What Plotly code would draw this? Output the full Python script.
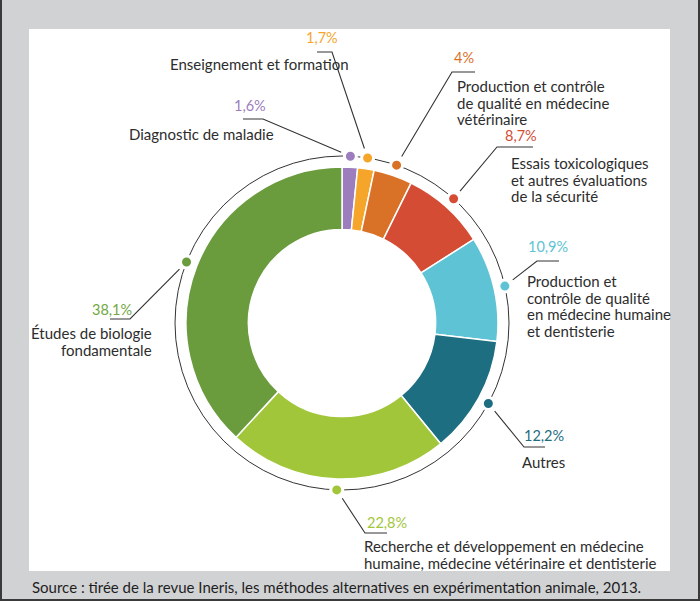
import math
import plotly.graph_objects as go

# ---- data ----
labels = [
    "Diagnostic de maladie",
    "Enseignement et formation",
    "Production et contrôle de qualité en médecine vétérinaire",
    "Essais toxicologiques et autres évaluations de la sécurité",
    "Production et contrôle de qualité en médecine humaine et dentisterie",
    "Autres",
    "Recherche et développement en médecine humaine, médecine vétérinaire et dentisterie",
    "Études de biologie fondamentale",
]
values = [1.6, 1.7, 4.0, 8.7, 10.9, 12.2, 22.8, 38.1]
pct_text = ["1,6%", "1,7%", "4%", "8,7%", "10,9%", "12,2%", "22,8%", "38,1%"]
label_lines = [
    ["Diagnostic de maladie"],
    ["Enseignement et formation"],
    ["Production et contrôle", "de qualité en médecine", "vétérinaire"],
    ["Essais toxicologiques", "et autres évaluations", "de la sécurité"],
    ["Production et", "contrôle de qualité", "en médecine humaine", "et dentisterie"],
    ["Autres"],
    ["Recherche et développement en médecine", "humaine, médecine vétérinaire et dentisterie"],
    ["Études de biologie", "fondamentale"],
]
colors = ["#9C7DBE", "#F6A52B", "#D97226", "#D54C35", "#5EC3D4", "#1D6E81", "#A2C639", "#6A9C3E"]
pct_colors = ["#9C7DBE", "#F6A52B", "#D97226", "#D54C35", "#5EC3D4", "#1D6E81", "#A2C639", "#72A843"]
source = "Source : tirée de la revue Ineris, les méthodes alternatives en expérimentation animale, 2013."

# ---- layout (pixel coordinates) ----
W, H = 700, 601
CX, CY = 342, 323      # donut centre
R_PIE = 156            # donut outer radius
R_RING = 167           # outer thin ring
TXT = "#2D2D2D"
FONT = "Lato"
FS = 15
FS_PCT = 14.5
LH = 16.6

# elbow / end of leader, pct text position, label position & anchor
elbow = [(263, 119), (332, 52), (452, 72), (497, 147), (537, 261), (524, 447), (365, 533), (130, 319)]
hend = [(243, 119), (317, 52), (475, 72), (533, 147), (559, 261), (545, 447), (387, 533), (110, 319)]
pct_pos = [(250, 105), (322, 37), (464, 57), (521, 135), (548, 246), (544, 435), (387, 522), (112, 309)]
lab_pos = [(275, 134), (350, 64), (456, 86), (510, 163), (526, 281), (521, 462), (363, 546), (153, 333)]
lab_anchor = ["right", "right", "left", "left", "left", "left", "left", "right"]

fig = go.Figure()

fig.add_trace(go.Pie(
    labels=labels, values=values, sort=False, direction="clockwise", rotation=0,
    hole=0.6, textinfo="none", hoverinfo="label+percent", showlegend=False,
    marker=dict(colors=colors, line=dict(color="white", width=1.5)),
    domain=dict(x=[(CX - R_PIE) / W, (CX + R_PIE) / W],
                y=[(H - CY - R_PIE) / H, (H - CY + R_PIE) / H]),
))

# dots at slice mid-angles on the ring
total = sum(values)
cum = 0
dx, dy = [], []
for v in values:
    mid = (cum + v / 2) / total * 2 * math.pi
    cum += v
    dx.append(CX + R_RING * math.sin(mid))
    dy.append(CY - R_RING * math.cos(mid))

annotations = []
for i in range(len(values)):
    ex, ey = elbow[i]
    vx, vy = ex - dx[i], ey - dy[i]
    n = math.hypot(vx, vy)
    sx, sy = dx[i] + vx / n * 10, dy[i] + vy / n * 10
    fig.add_trace(go.Scatter(
        x=[sx, ex, hend[i][0]], y=[sy, ey, hend[i][1]], mode="lines",
        line=dict(color="#333333", width=1.1), hoverinfo="skip", showlegend=False))
    annotations.append(dict(x=pct_pos[i][0], y=pct_pos[i][1], text=pct_text[i], showarrow=False,
                            xanchor="center", yanchor="middle",
                            font=dict(family=FONT, size=FS_PCT, color=pct_colors[i])))
    for j, line in enumerate(label_lines[i]):
        annotations.append(dict(x=lab_pos[i][0], y=lab_pos[i][1] + j * LH, text=line, showarrow=False,
                                xanchor=lab_anchor[i], yanchor="middle", borderpad=0,
                                font=dict(family=FONT, size=FS, color=TXT)))

fig.add_trace(go.Scatter(
    x=dx, y=dy, mode="markers",
    marker=dict(size=12, color=colors, line=dict(color="white", width=3)),
    hoverinfo="skip", showlegend=False))

annotations.append(dict(x=30, y=587, text=source, showarrow=False, xanchor="left", yanchor="middle",
                        font=dict(family=FONT, size=15, color="#1E1E1E")))

BORDER = "#3A3A3A"
shapes = [
    dict(type="rect", x0=29, y0=29, x1=670, y1=571, fillcolor="white", line=dict(width=0), layer="below"),
    dict(type="circle", x0=CX - R_RING, y0=CY - R_RING, x1=CX + R_RING, y1=CY + R_RING,
         line=dict(color="#333333", width=1), layer="below"),
    dict(type="line", x0=1, y0=0, x1=1, y1=601, line=dict(color=BORDER, width=2), layer="above"),
    dict(type="line", x0=699, y0=0, x1=699, y1=601, line=dict(color=BORDER, width=2), layer="above"),
    dict(type="line", x0=0, y0=600, x1=700, y1=600, line=dict(color=BORDER, width=2), layer="above"),
]

fig.update_layout(
    width=W, height=H, margin=dict(l=0, r=0, t=0, b=0),
    paper_bgcolor="#D1D2D4", plot_bgcolor="rgba(0,0,0,0)",
    xaxis=dict(range=[0, W], domain=[0, 1], visible=False, fixedrange=True),
    yaxis=dict(range=[H, 0], domain=[0, 1], visible=False, fixedrange=True),
    shapes=shapes, annotations=annotations, showlegend=False,
)

fig.write_html("out.html", config={"displayModeBar": False},
               post_script="document.body.style.margin='0';document.body.style.overflow='hidden';")
